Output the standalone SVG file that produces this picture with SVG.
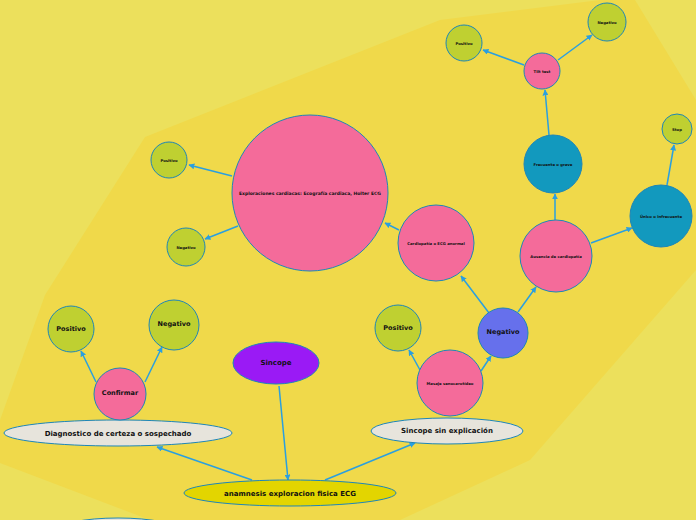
<svg xmlns="http://www.w3.org/2000/svg" width="696" height="520" viewBox="0 0 696 520">
<defs>
<marker id="ah" viewBox="0 0 10 10" refX="9" refY="5" markerWidth="6" markerHeight="6" orient="auto" markerUnits="userSpaceOnUse"><path d="M0,0 L10,5 L0,10 z" fill="#2A9FE0"/></marker>
<style>
.n{stroke:#1E86B8;stroke-width:1}
.pink{fill:#F46B9A}.green{fill:#BFD031}.teal{fill:#1299BE}.grey{fill:#E7E4DC}
.t{font-family:"DejaVu Sans",sans-serif;font-weight:bold;fill:#111;text-anchor:middle;dominant-baseline:central}
.c line{stroke:#2A9FE0;stroke-width:1.5;marker-end:url(#ah)}
</style>
</defs>
<rect width="696" height="520" fill="#ECE05C"/>
<path d="M145,137 L440,20 L600,0 L635,0 L696,100 L696,270 L530,460 L400,520 L150,520 L0,463 L0,420 L45,295 Z" fill="#F0D94A"/>
<g class="c" id="connectors">
<line x1="252" y1="480" x2="157" y2="447"/>
<line x1="279" y1="386" x2="288" y2="480"/>
<line x1="325" y1="480" x2="415" y2="443"/>
<line x1="96" y1="382" x2="81" y2="351"/>
<line x1="145" y1="382" x2="162" y2="347"/>
<line x1="420" y1="370" x2="409" y2="350"/>
<line x1="481" y1="371" x2="491" y2="356"/>
<line x1="489" y1="313" x2="461" y2="276"/>
<line x1="518" y1="312" x2="536" y2="287"/>
<line x1="399" y1="230" x2="385" y2="223"/>
<line x1="232" y1="176" x2="189" y2="165"/>
<line x1="238" y1="226" x2="205" y2="239"/>
<line x1="555" y1="220" x2="555" y2="194"/>
<line x1="591" y1="243" x2="632" y2="228"/>
<line x1="549" y1="135" x2="545" y2="90"/>
<line x1="524" y1="65" x2="483" y2="50"/>
<line x1="558" y1="60" x2="592" y2="35"/>
<line x1="667" y1="185" x2="674" y2="145"/>
</g>
<g id="partial"><ellipse class="n grey" cx="118" cy="531" rx="62" ry="13"/></g>
<g id="anamnesis"><ellipse class="n" fill="#E3D500" cx="290" cy="493" rx="106" ry="13"/><text class="t" x="290" y="494" font-size="7">anamnesis exploracion  fisica ECG</text></g>
<g id="sincope"><ellipse class="n" fill="#9A1AF5" cx="276" cy="363" rx="43" ry="21"/><text class="t" x="276" y="363" font-size="7">Sincope</text></g>
<g id="diagnostico"><ellipse class="n grey" cx="118" cy="433" rx="114" ry="13"/><text class="t" x="118" y="434" font-size="7">Diagnostico de certeza o sospechado</text></g>
<g id="sinexp"><ellipse class="n grey" cx="447" cy="431" rx="76" ry="13"/><text class="t" x="447" y="431" font-size="7">Sincope sin explicación</text></g>
<g id="confirmar"><circle class="n pink" cx="120" cy="394" r="26"/><text class="t" x="120" y="393" font-size="6.5">Confirmar</text></g>
<g id="pos1"><circle class="n green" cx="71" cy="329" r="23"/><text class="t" x="71" y="329" font-size="6.5">Positivo</text></g>
<g id="neg1"><circle class="n green" cx="174" cy="325" r="25"/><text class="t" x="174" y="324" font-size="6.5">Negativo</text></g>
<g id="masaje"><circle class="n pink" cx="450" cy="383" r="33"/><text class="t" x="450" y="383" font-size="3.8">Masaje senocarotídeo</text></g>
<g id="pos2"><circle class="n green" cx="398" cy="328" r="23"/><text class="t" x="398" y="328" font-size="6.5">Positivo</text></g>
<g id="neg2"><circle class="n" fill="#6670EC" cx="503" cy="333" r="25"/><text class="t" x="503" y="332" font-size="6.5">Negativo</text></g>
<g id="cardiopatia"><circle class="n pink" cx="436" cy="243" r="38"/><text class="t" x="436" y="243" font-size="3.8">Cardiopatía o ECG anormal</text></g>
<g id="ausencia"><circle class="n pink" cx="556" cy="256" r="36"/><text class="t" x="556" y="256" font-size="3.8">Ausencia de cardiopatía</text></g>
<g id="exploraciones"><circle class="n pink" cx="310" cy="193" r="78"/><text class="t" x="310" y="193" font-size="4.5">Exploraciones cardiacas: Ecografía cardiaca, Holter ECG</text></g>
<g id="pos3"><circle class="n green" cx="169" cy="160" r="18"/><text class="t" x="169" y="160" font-size="3.8">Positivo</text></g>
<g id="neg3"><circle class="n green" cx="186" cy="247" r="19"/><text class="t" x="186" y="247" font-size="3.8">Negativo</text></g>
<g id="frecuente"><circle class="n teal" cx="553" cy="164" r="29"/><text class="t" x="553" y="164" font-size="3.8">Frecuente o grave</text></g>
<g id="unico"><circle class="n teal" cx="661" cy="216" r="31"/><text class="t" x="661" y="216" font-size="3.8">Único o infrecuente</text></g>
<g id="stop"><circle class="n green" cx="677" cy="129" r="15"/><text class="t" x="677" y="129" font-size="3.8">Stop</text></g>
<g id="tilt"><circle class="n pink" cx="542" cy="71" r="18"/><text class="t" x="542" y="71" font-size="3.8">Tilt test</text></g>
<g id="pos4"><circle class="n green" cx="464" cy="43" r="18"/><text class="t" x="464" y="43" font-size="3.8">Positivo</text></g>
<g id="neg4"><circle class="n green" cx="607" cy="22" r="19"/><text class="t" x="607" y="22" font-size="3.8">Negativo</text></g>
</svg>
